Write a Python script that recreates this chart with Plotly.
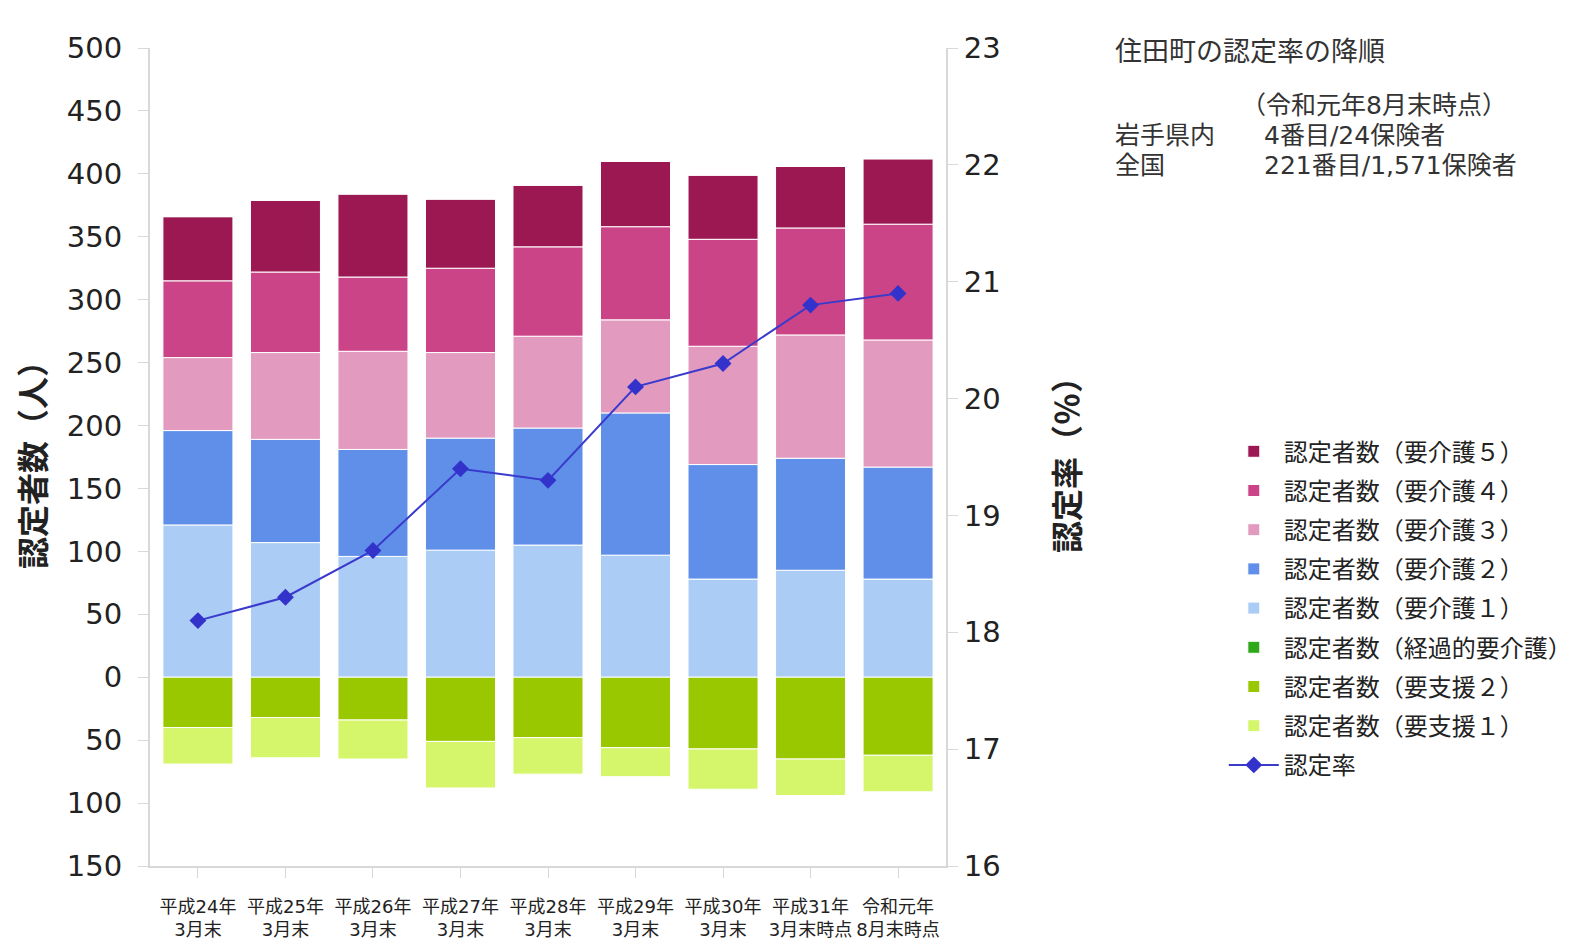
import plotly.graph_objects as go

categories = ["平成24年<br>3月末", "平成25年<br>3月末", "平成26年<br>3月末", "平成27年<br>3月末",
              "平成28年<br>3月末", "平成29年<br>3月末", "平成30年<br>3月末",
              "平成31年<br>3月末時点", "令和元年<br>8月末時点"]

kaigo5 = [51, 57, 66, 55, 49, 52, 51, 49, 52]
kaigo4 = [61, 64, 59, 67, 71, 74, 85, 85, 92]
kaigo3 = [58, 69, 78, 68, 73, 74, 94, 98, 101]
kaigo2 = [75, 82, 85, 89, 93, 113, 91, 89, 89]
kaigo1 = [121, 107, 96, 101, 105, 97, 78, 85, 78]
keika = [0, 0, 0, 0, 0, 0, 0, 0, 0]
shien2 = [40, 32, 34, 51, 48, 56, 57, 65, 62]
shien1 = [29, 32, 31, 37, 29, 23, 32, 29, 29]
rate = [18.1, 18.3, 18.7, 19.4, 19.3, 20.1, 20.3, 20.8, 20.9]

left_ticks = [-150, -100, -50, 0, 50, 100, 150, 200, 250, 300, 350, 400, 450, 500]
left_tick_text = ["150", "100", "50", "0", "50", "100", "150", "200", "250", "300", "350", "400", "450", "500"]
right_ticks = [16, 17, 18, 19, 20, 21, 22, 23]

FONT = "DejaVu Sans, Noto Sans CJK JP, sans-serif"
CJK = "Noto Sans CJK JP, sans-serif"

fig = go.Figure()

bar_series = [
    ("認定者数（要介護１）", kaigo1, "#aaccf5", 5, 1),
    ("認定者数（要介護２）", kaigo2, "#5f8fe8", 4, 1),
    ("認定者数（要介護３）", kaigo3, "#e39abf", 3, 1),
    ("認定者数（要介護４）", kaigo4, "#cc4488", 2, 1),
    ("認定者数（要介護５）", kaigo5, "#9b1853", 1, 1),
    ("認定者数（経過的要介護）", keika, "#2ea81a", 6, 1),
    ("認定者数（要支援２）", shien2, "#99c700", 7, -1),
    ("認定者数（要支援１）", shien1, "#d5f56a", 8, -1),
]

for name, vals, color, rank, sign in bar_series:
    fig.add_trace(go.Bar(
        x=categories, y=[sign * v for v in vals], name=name,
        marker=dict(color=color, line=dict(color="white", width=1)),
        legendrank=rank, legendgroup=name, width=0.8,
    ))

fig.add_trace(go.Scatter(
    x=categories, y=rate, name="認定率", yaxis="y2", mode="lines+markers",
    line=dict(color="#3a3acc", width=2),
    marker=dict(symbol="diamond", size=13, color="#3333cc"),
    legendrank=9, legendgroup="rate",
))

fig.update_layout(
    width=1582, height=943,
    margin=dict(l=142, r=644, t=40, b=85),
    paper_bgcolor="white", plot_bgcolor="white",
    barmode="relative", bargap=0.2,
    font=dict(family=FONT, color="#222222"),
    showlegend=True,
    legend=dict(x=1.349, y=0.534, xanchor="left", yanchor="top",
                font=dict(family=CJK, size=24, color="#222222"),
                tracegroupgap=5, itemwidth=50, bgcolor="rgba(0,0,0,0)"),
    xaxis=dict(showline=True, linecolor="#d8d8d8", linewidth=2,
               ticks="outside", ticklen=10, tickcolor="#d8d8d8",
               tickfont=dict(family=FONT, size=18, color="#222222"),
               ticklabelstandoff=13,
               showgrid=False),
    yaxis=dict(range=[-150, 500], tickvals=left_ticks, ticktext=left_tick_text,
               showline=True, linecolor="#d8d8d8", linewidth=2,
               ticks="outside", ticklen=10, tickcolor="#d8d8d8",
               tickfont=dict(family=FONT, size=29, color="#222222"),
               ticklabelstandoff=10,
               showgrid=False, zeroline=False,
               title=dict(text="<b>認定者数（人）</b>", font=dict(family=CJK, size=32, color="#222222"), standoff=16)),
    yaxis2=dict(range=[16, 23], tickvals=right_ticks, overlaying="y", side="right",
                showline=True, linecolor="#d8d8d8", linewidth=2,
                ticks="outside", ticklen=10, tickcolor="#d8d8d8",
                tickfont=dict(family=FONT, size=29, color="#222222"),
                showgrid=False, zeroline=False,
                title=dict(text="<b>認定率（％）</b>", font=dict(family=CJK, size=32, color="#222222"), standoff=57)),
)

title_font = dict(family=CJK, size=27, color="#333333")
ann_font = dict(family=FONT, size=25, color="#333333")
fig.add_annotation(text="住田町の認定率の降順", xref="paper", yref="paper", x=1.210, y=0.9976,
                   xanchor="left", yanchor="middle", showarrow=False, font=title_font)
fig.add_annotation(text="（令和元年8月末時点）", xref="paper", yref="paper", x=1.368, y=0.930,
                   xanchor="left", yanchor="middle", showarrow=False, font=ann_font)
fig.add_annotation(text="岩手県内", xref="paper", yref="paper", x=1.210, y=0.893,
                   xanchor="left", yanchor="middle", showarrow=False, font=ann_font)
fig.add_annotation(text="4番目/24保険者", xref="paper", yref="paper", x=1.397, y=0.893,
                   xanchor="left", yanchor="middle", showarrow=False, font=ann_font)
fig.add_annotation(text="全国", xref="paper", yref="paper", x=1.210, y=0.856,
                   xanchor="left", yanchor="middle", showarrow=False, font=ann_font)
fig.add_annotation(text="221番目/1,571保険者", xref="paper", yref="paper", x=1.397, y=0.856,
                   xanchor="left", yanchor="middle", showarrow=False, font=ann_font)

fig.write_html("out.html")
